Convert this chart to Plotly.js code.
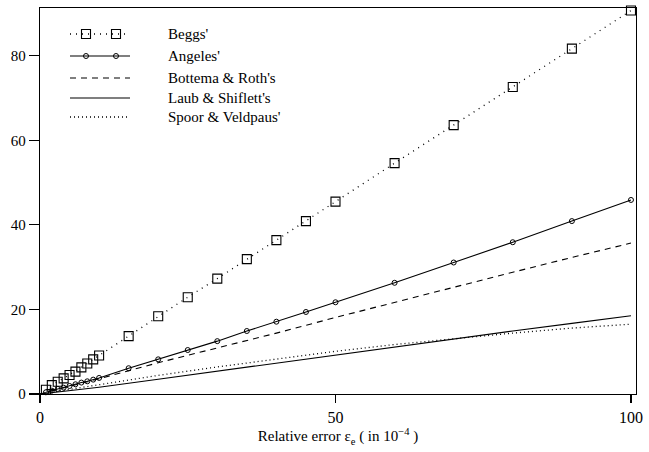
<!DOCTYPE html>
<html>
<head>
<meta charset="utf-8">
<script src="https://cdn.plot.ly/plotly-3.0.1.min.js"></script>
<style>
html,body{margin:0;padding:0;background:#fff;}
#chart{width:649px;height:452px;}
</style>
</head>
<body>
<div id="chart"></div>
<script>
// ---- data ----
const seriesNames = ["Beggs'", "Angeles'", "Bottema & Roth's", "Laub & Shiflett's", "Spoor & Veldpaus'"];

const beggsX = [1,2,3,4,5,6,7,8,9,10,15,20,25,30,35,40,45,50,60,70,80,90,100];
const beggsY = [1.0,2.1,2.9,3.7,4.5,5.3,6.3,7.2,8.2,9.1,13.7,18.4,22.9,27.3,31.9,36.4,40.9,45.5,54.6,63.6,72.6,81.7,90.7];

const angelesX = [1,2,3,4,5,6,7,8,9,10,15,20,25,30,35,40,45,50,60,70,80,90,100];
const angelesY = [0.4,0.8,1.2,1.5,1.9,2.3,2.7,3.0,3.4,3.8,6.1,8.2,10.4,12.5,14.9,17.1,19.4,21.7,26.3,31.1,35.9,40.9,45.9];

const bottemaX = [0,10,20,30,40,50,60,70,80,90,100];
const bottemaY = [0,3.6,7.4,10.9,14.4,18.1,21.7,25.3,28.8,32.3,35.7];

const laubX = [0,10,20,30,40,50,60,70,80,90,100];
const laubY = [0,1.6,3.5,5.4,7.3,9.2,11.2,13.0,14.9,16.7,18.5];

const spoorX = [0,10,20,30,40,50,60,70,80,90,100];
const spoorY = [0,2.2,4.4,6.4,8.3,10.1,11.7,13.1,14.4,15.6,16.5];

const xTicks = [0,50,100];
const yTicks = [0,20,40,60,80];

// ---- styles ----
const FONT = "Liberation Serif, Times New Roman, serif";
const styles = [
  {dash:'1px,5px', width:1.3, mode:'lines+markers', marker:{symbol:'square-open', size:9, color:'#000', line:{width:1.1, color:'#000'}}},
  {dash:'solid', width:1.1, mode:'lines+markers', marker:{symbol:'circle-open', size:5, color:'#000', line:{width:1, color:'#000'}}},
  {dash:'6px,5px', width:1.1, mode:'lines'},
  {dash:'solid', width:1.1, mode:'lines'},
  {dash:'1px,3px', width:1.3, mode:'lines'}
];
const xs = [beggsX, angelesX, bottemaX, laubX, spoorX];
const ys = [beggsY, angelesY, bottemaY, laubY, spoorY];

const traces = xs.map((x, i) => {
  const t = {
    x: x, y: ys[i], type: 'scatter', mode: styles[i].mode, name: seriesNames[i],
    line: {color: '#000', width: styles[i].width, dash: styles[i].dash},
    cliponaxis: false, showlegend: false, hoverinfo: 'skip'
  };
  if (styles[i].marker) t.marker = styles[i].marker;
  return t;
});

// ---- hand-made legend (shapes + annotations in paper space) ----
const plotL = 40, plotR = 636, plotT = 8, plotB = 394;
const pw = plotR - plotL, ph = plotB - plotT;
const px2x = p => (p - plotL) / pw;
const py2y = p => (plotB - p) / ph;
const legendRows = [34, 56, 78, 98, 117];
const lx0 = px2x(70), lx1 = px2x(130), ltext = px2x(166);
const markerXs = [px2x(86), px2x(116)];

const shapes = [];
const annotations = [];
legendRows.forEach((ry, i) => {
  const yy = py2y(ry);
  shapes.push({type:'line', xref:'paper', yref:'paper', x0:lx0, x1:lx1, y0:yy, y1:yy,
               line:{color:'#000', width:styles[i].width, dash:styles[i].dash}});
  if (i === 0) {
    markerXs.forEach(mx => shapes.push({type:'rect', xref:'paper', yref:'paper',
      xsizemode:'pixel', ysizemode:'pixel', xanchor:mx, yanchor:yy,
      x0:-4.5, x1:4.5, y0:-4.5, y1:4.5, line:{color:'#000', width:1.1}, fillcolor:'rgba(0,0,0,0)'}));
  }
  if (i === 1) {
    markerXs.forEach(mx => shapes.push({type:'circle', xref:'paper', yref:'paper',
      xsizemode:'pixel', ysizemode:'pixel', xanchor:mx, yanchor:yy,
      x0:-2.5, x1:2.5, y0:-2.5, y1:2.5, line:{color:'#000', width:1}, fillcolor:'rgba(0,0,0,0)'}));
  }
  annotations.push({xref:'paper', yref:'paper', x:ltext, y:yy, xanchor:'left', yanchor:'middle',
    text: seriesNames[i], showarrow:false, font:{family:FONT, size:15, color:'#000'}});
});

const layout = {
  width: 649, height: 452,
  margin: {l: plotL, r: 649 - plotR, t: plotT, b: 452 - plotB, pad: 0},
  paper_bgcolor: '#fff', plot_bgcolor: '#fff',
  font: {family: FONT, size: 15, color: '#000'},
  showlegend: false,
  xaxis: {
    range: [0, 100.85], tickvals: xTicks, ticktext: xTicks.map(String),
    ticks: 'outside', ticklen: 8, tickwidth: 1.2, tickcolor: '#000',
    showgrid: false, zeroline: false, showline: true, linecolor: '#000', linewidth: 1.3, mirror: true,
    tickfont: {family: FONT, size: 16, color: '#000'},
    title: {text: 'Relative error ε<sub>e</sub> ( in 10<sup>−4</sup> )', font: {family: FONT, size: 15, color: '#000'}, standoff: 6}
  },
  yaxis: {
    range: [0, 91.3], tickvals: yTicks, ticktext: yTicks.map(String),
    ticks: 'outside', ticklen: 10, tickwidth: 1.2, tickcolor: '#000',
    showgrid: false, zeroline: false, showline: true, linecolor: '#000', linewidth: 1.3, mirror: true,
    tickfont: {family: FONT, size: 15, color: '#000'}
  },
  shapes: shapes,
  annotations: annotations
};

Plotly.newPlot('chart', traces, layout, {staticPlot: true, displayModeBar: false});
</script>
</body>
</html>
